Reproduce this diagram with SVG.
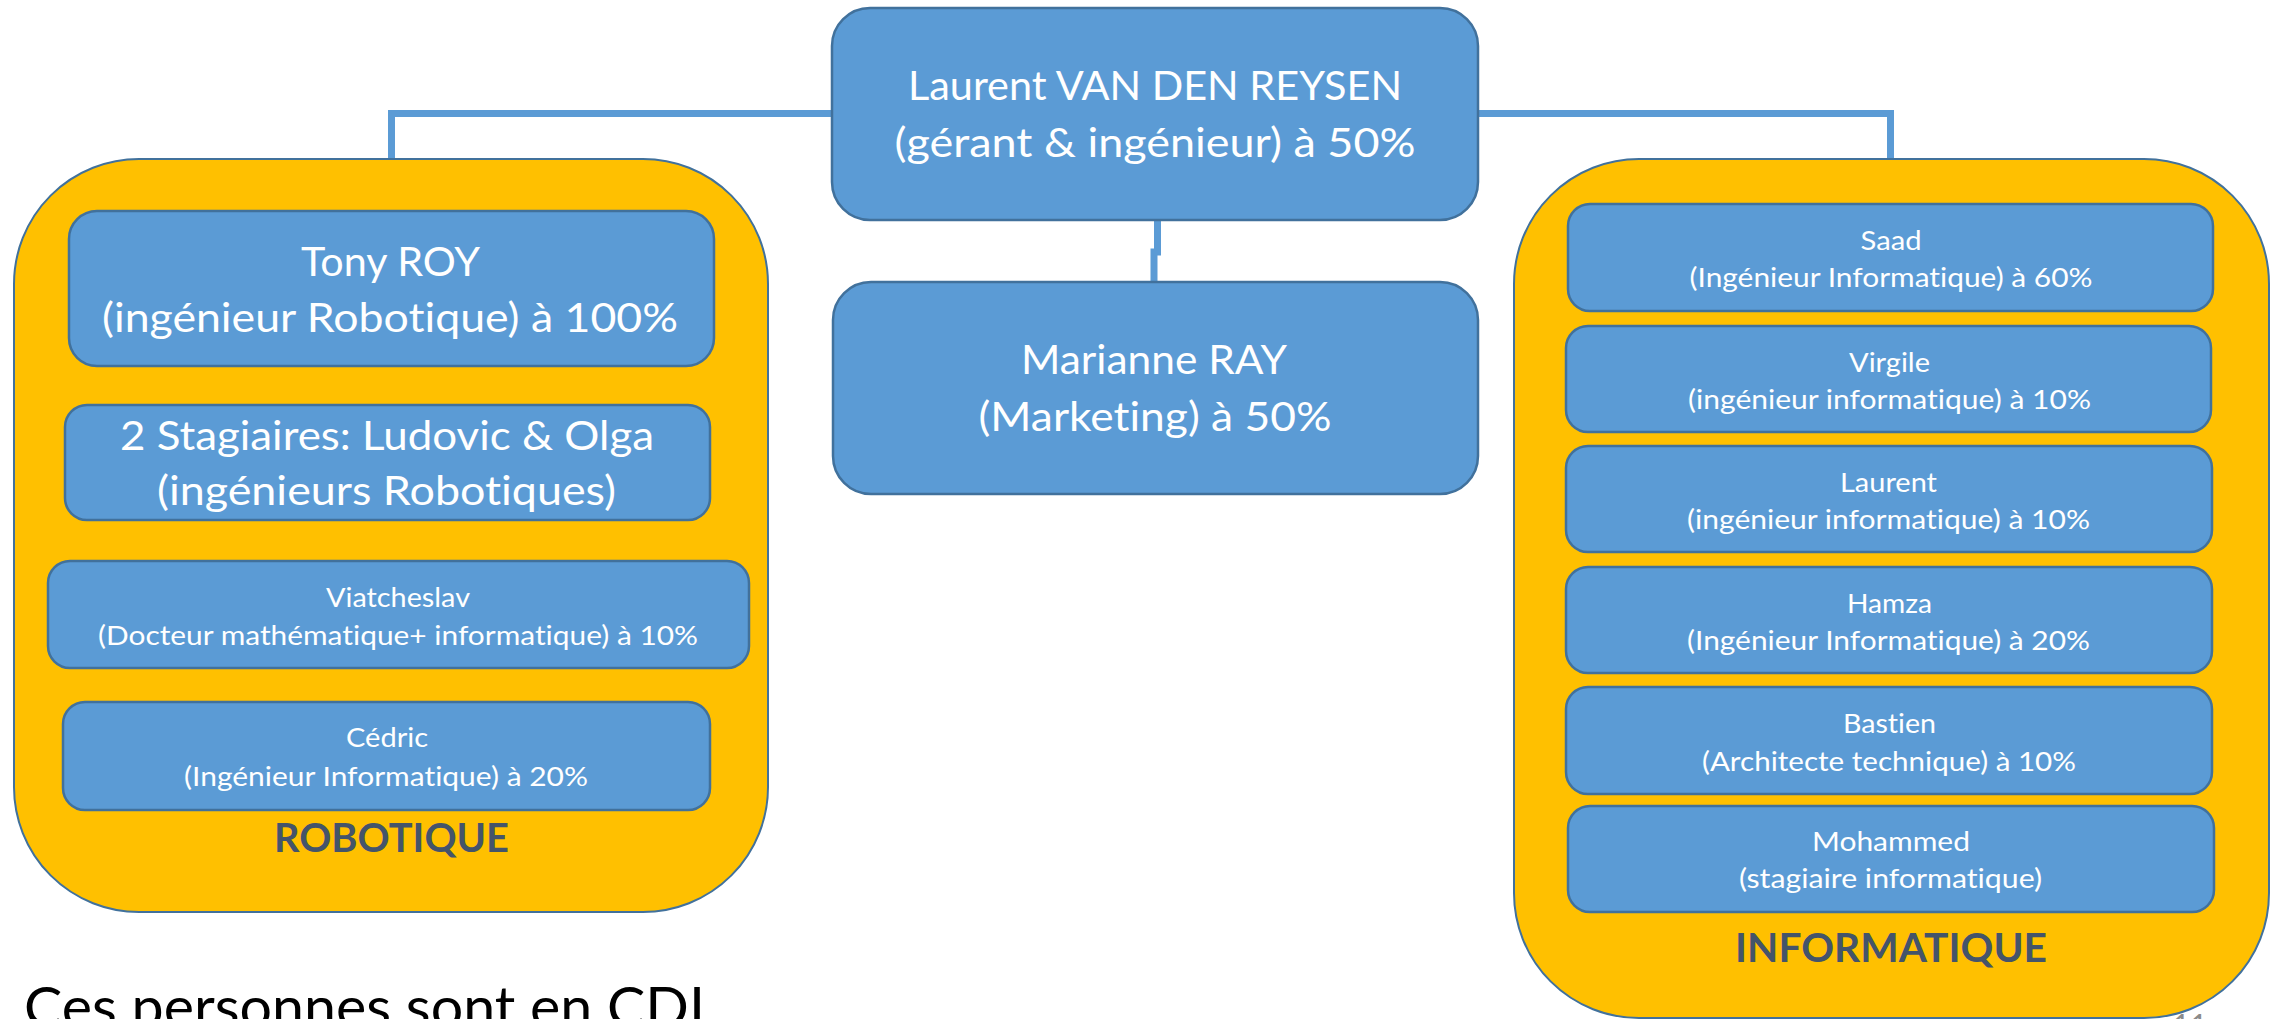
<svg xmlns="http://www.w3.org/2000/svg" width="2275" height="1019" viewBox="0 0 2275 1019">
<style>
text{font-variant-ligatures:none;font-feature-settings:"liga" 0,"clig" 0,"dlig" 0}
.grp{fill:#FFC000;stroke:#41719C;stroke-width:2}
.box{fill:#5B9BD5;stroke:#41719C;stroke-width:2.5}
.t{font-family:Lato,"Noto Sans","Liberation Sans",sans-serif;fill:#FFFFFF;text-anchor:middle}
.s{font-size:26.5px}
.b{font-size:40px}
.lbl{font-family:Lato,"Noto Sans","Liberation Sans",sans-serif;font-weight:bold;font-size:41px;fill:#44546A;text-anchor:middle}
.con{fill:none;stroke:#5B9BD5;stroke-width:7}
</style>
<rect width="2275" height="1019" fill="#FFFFFF"/>
<g id="connectors">
<path class="con" d="M832,113.5 H391.5 V160"/>
<path class="con" d="M1478,113.5 H1890.5 V160"/>
<path class="con" d="M1157.5,221 V252 H1154 V283"/>
</g>
<g id="robotique">
<rect class="grp" x="14" y="159" width="754" height="753" rx="125" ry="125"/>
<text class="lbl" x="391.5" y="852" textLength="235" lengthAdjust="spacingAndGlyphs">ROBOTIQUE</text>
</g>
<g id="informatique">
<rect class="grp" x="1514" y="159" width="755" height="859" rx="125" ry="125"/>
<text class="lbl" x="1891" y="962" textLength="312" lengthAdjust="spacingAndGlyphs">INFORMATIQUE</text>
</g>
<g id="laurent-vdr">
<rect class="box" x="832" y="8" width="646" height="212" rx="38"/>
<text class="t b" x="1155" y="100" textLength="494" lengthAdjust="spacingAndGlyphs">Laurent VAN DEN REYSEN</text>
<text class="t b" x="1155" y="157" textLength="521" lengthAdjust="spacingAndGlyphs">(gérant &amp; ingénieur) à 50%</text>
</g>
<g id="marianne">
<rect class="box" x="833" y="282" width="645" height="212" rx="38"/>
<text class="t b" x="1154" y="374" textLength="266" lengthAdjust="spacingAndGlyphs">Marianne RAY</text>
<text class="t b" x="1155" y="431" textLength="353" lengthAdjust="spacingAndGlyphs">(Marketing) à 50%</text>
</g>
<g id="tony">
<rect class="box" x="69" y="211" width="645" height="155" rx="28"/>
<text class="t b" x="390.5" y="276" textLength="179" lengthAdjust="spacingAndGlyphs">Tony ROY</text>
<text class="t b" x="390" y="332" textLength="576" lengthAdjust="spacingAndGlyphs">(ingénieur Robotique) à 100%</text>
</g>
<g id="stagiaires">
<rect class="box" x="65" y="405" width="645" height="115" rx="22"/>
<text class="t b" x="387" y="450" textLength="534" lengthAdjust="spacingAndGlyphs">2 Stagiaires: Ludovic &amp; Olga</text>
<text class="t b" x="386.5" y="505" textLength="459" lengthAdjust="spacingAndGlyphs">(ingénieurs Robotiques)</text>
</g>
<g id="viatcheslav">
<rect class="box" x="48" y="561" width="701" height="107" rx="22"/>
<text class="t s" x="398" y="607" textLength="144" lengthAdjust="spacingAndGlyphs">Viatcheslav</text>
<text class="t s" x="398" y="645" textLength="600" lengthAdjust="spacingAndGlyphs">(Docteur mathématique+ informatique) à 10%</text>
</g>
<g id="cedric">
<rect class="box" x="63" y="702" width="647" height="108" rx="22"/>
<text class="t s" x="387" y="747" textLength="82" lengthAdjust="spacingAndGlyphs">Cédric</text>
<text class="t s" x="386" y="786" textLength="404" lengthAdjust="spacingAndGlyphs">(Ingénieur Informatique) à 20%</text>
</g>
<g id="saad">
<rect class="box" x="1568" y="204" width="645" height="107" rx="22"/>
<text class="t s" x="1891" y="250" textLength="61" lengthAdjust="spacingAndGlyphs">Saad</text>
<text class="t s" x="1891" y="287" textLength="403" lengthAdjust="spacingAndGlyphs">(Ingénieur Informatique) à 60%</text>
</g>
<g id="virgile">
<rect class="box" x="1566" y="326" width="645" height="106" rx="22"/>
<text class="t s" x="1889.5" y="372" textLength="81" lengthAdjust="spacingAndGlyphs">Virgile</text>
<text class="t s" x="1889.5" y="409" textLength="403" lengthAdjust="spacingAndGlyphs">(ingénieur informatique) à 10%</text>
</g>
<g id="laurent">
<rect class="box" x="1566" y="446" width="646" height="106" rx="22"/>
<text class="t s" x="1888.5" y="492" textLength="97" lengthAdjust="spacingAndGlyphs">Laurent</text>
<text class="t s" x="1888.5" y="529" textLength="403" lengthAdjust="spacingAndGlyphs">(ingénieur informatique) à 10%</text>
</g>
<g id="hamza">
<rect class="box" x="1566" y="567" width="646" height="106" rx="22"/>
<text class="t s" x="1889.5" y="613" textLength="85" lengthAdjust="spacingAndGlyphs">Hamza</text>
<text class="t s" x="1888.5" y="650" textLength="403" lengthAdjust="spacingAndGlyphs">(Ingénieur Informatique) à 20%</text>
</g>
<g id="bastien">
<rect class="box" x="1566" y="687" width="646" height="107" rx="22"/>
<text class="t s" x="1889.5" y="733" textLength="93" lengthAdjust="spacingAndGlyphs">Bastien</text>
<text class="t s" x="1889" y="771" textLength="374" lengthAdjust="spacingAndGlyphs">(Architecte technique) à 10%</text>
</g>
<g id="mohammed">
<rect class="box" x="1568" y="806" width="646" height="106" rx="22"/>
<text class="t s" x="1891" y="851" textLength="158" lengthAdjust="spacingAndGlyphs">Mohammed</text>
<text class="t s" x="1890.5" y="888" textLength="303" lengthAdjust="spacingAndGlyphs">(stagiaire informatique)</text>
</g>
<text x="24" y="1027" font-family="Lato,'Noto Sans','Liberation Sans',sans-serif" font-size="57" fill="#000000" textLength="681" lengthAdjust="spacingAndGlyphs">Ces personnes sont en CDI</text>
<text x="2190" y="1036" font-family="Lato,'Noto Sans','Liberation Sans',sans-serif" font-size="30" fill="#8B8B8B" text-anchor="middle">11</text>
</svg>
